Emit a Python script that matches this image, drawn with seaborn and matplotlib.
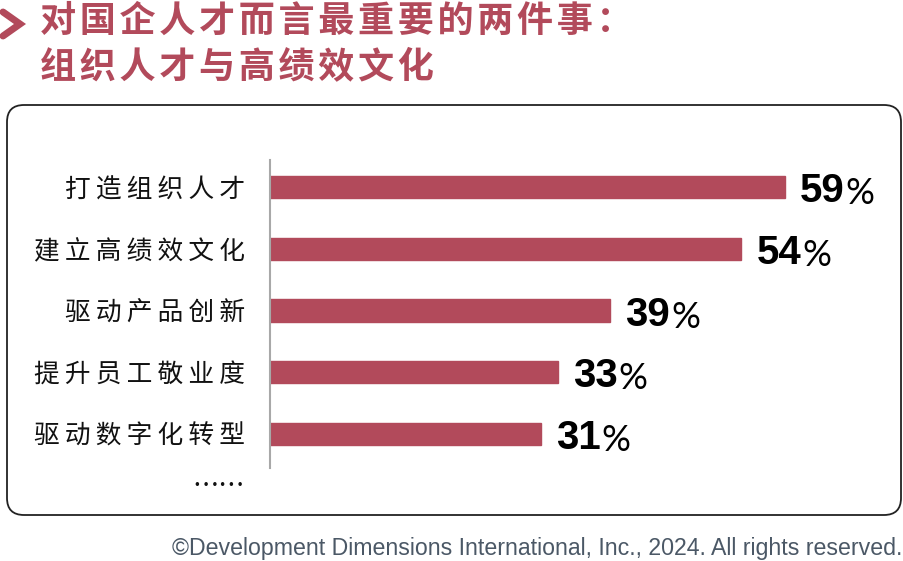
import matplotlib
matplotlib.use("Agg")
import matplotlib.pyplot as plt
import seaborn as sns
import pandas as pd
from matplotlib.patches import FancyBboxPatch
from matplotlib.lines import Line2D

# data
categories = ["打造组织人才", "建立高绩效文化", "驱动产品创新", "提升员工敬业度", "驱动数字化转型"]
values = [59, 54, 39, 33, 31]
title_lines = ["对国企人才而言最重要的两件事：", "组织人才与高绩效文化"]
footer = "©Development Dimensions International, Inc., 2024. All rights reserved."

red = "#B24A5B"
df = pd.DataFrame({"item": categories, "pct": values})

sns.set_style("white")
plt.rcParams["font.family"] = ["Noto Sans CJK SC", "DejaVu Sans"]

W, H = 904, 561
fig = plt.figure(figsize=(W / 100, H / 100), dpi=100)

# rounded frame, behind the axes
box = FancyBboxPatch((0.07, 0.46), 8.94, 4.10, boxstyle="round,pad=0,rounding_size=0.17",
                     transform=fig.dpi_scale_trans, facecolor="none", edgecolor="#222222",
                     linewidth=1.3, zorder=-1)
fig.add_artist(box)

# axes: left spine at x=270px, top 160px, bottom 468px
ax = fig.add_axes([270 / W, 1 - 468 / H, 610 / W, 308 / H])
ax.set_facecolor("none")
sns.barplot(data=df, x="pct", y="item", orient="h", color=red, width=0.36,
            saturation=1, ax=ax, edgecolor=red)
ax.set_xlim(0, 610 / (515 / 59))
ax.set_ylim(4.55, -0.44)
ax.set_xlabel("")
ax.set_ylabel("")
ax.set_xticks([])
ax.set_yticks(range(len(categories)))
ax.set_yticklabels(["\u2009".join(c) for c in categories], fontsize=18.5, color="#111111")
ax.tick_params(axis="y", length=0, pad=18)
for s in ["top", "right", "bottom"]:
    ax.spines[s].set_visible(False)
ax.spines["left"].set_color("#A8A8A8")
ax.spines["left"].set_linewidth(1.5)

# value labels
for i, v in enumerate(values):
    t = ax.annotate(str(v), xy=(v, i), xytext=(15, -15), textcoords="offset pixels",
                    ha="left", va="baseline", fontsize=29, fontweight="bold",
                    family=["Liberation Sans", "DejaVu Sans"], color="black")
    ax.annotate("%", xy=(1, 0), xycoords=t, xytext=(1, 0), textcoords="offset pixels",
                ha="left", va="bottom", fontsize=26, family=["Lato", "DejaVu Sans"], color="black")

ax.annotate("……", xy=(0, 4.85), xycoords=("axes fraction", "data"), xytext=(-25, 0),
            textcoords="offset pixels", ha="right", va="center", fontsize=19, color="#111111")

# title
fig.text(40 / W, 1 - 21 / H, "\u200a".join(title_lines[0]), fontsize=26, fontweight="bold",
         color=red, ha="left", va="center")
fig.text(40 / W, 1 - 67 / H, "\u200a".join(title_lines[1]), fontsize=26,
         fontweight="bold", color=red, ha="left", va="center")
fig.add_artist(Line2D([3 / W, 20 / W, 3 / W], [1 - 12 / H, 1 - 24 / H, 1 - 36 / H],
                      color=red, linewidth=5, solid_joinstyle="miter"))

fig.text(902 / W, 1 - 548 / H, footer, fontsize=16.7, color="#4B5866", ha="right", va="center",
         family=["Liberation Sans", "DejaVu Sans"])

fig.savefig("out.png", dpi=100)
